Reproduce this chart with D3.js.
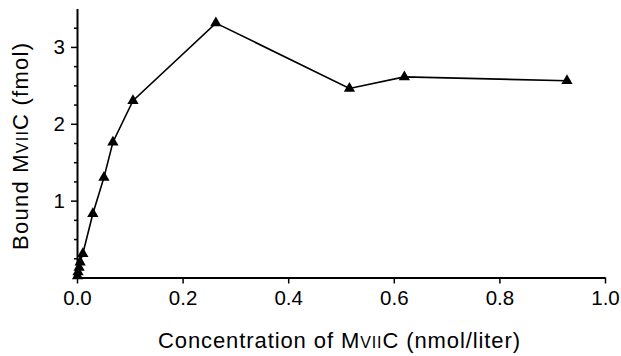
<!DOCTYPE html>
<html>
<head>
<meta charset="utf-8">
<script src="https://cdn.jsdelivr.net/npm/d3@7"></script>
<style>
  body { margin: 0; background: #fff; }
  svg { display: block; font-family: 'Liberation Sans', Arial, sans-serif; }
</style>
</head>
<body>
<svg id="chart" width="621" height="356"></svg>
<script>
const concentration = [0.001, 0.002, 0.004, 0.006, 0.011, 0.03, 0.051, 0.068, 0.106, 0.263, 0.516, 0.62, 0.928]
const bound = [0.02, 0.07, 0.13, 0.2, 0.31, 0.83, 1.3, 1.76, 2.3, 3.31, 2.46, 2.61, 2.56]
const xTicks = [0, 0.2, 0.4, 0.6, 0.8, 1.0]
const yTicks = [1, 2, 3]
const yMinorTicks = [0.25, 0.5, 0.75, 1.25, 1.5, 1.75, 2.25, 2.5, 2.75, 3.25]

const points = concentration.map((c, i) => ({ x: c, y: bound[i] }))

const svg = d3.select('#chart')
const x = d3.scaleLinear().domain([0, 1]).range([77, 605])
const y = d3.scaleLinear().domain([0, 3.5]).range([277.5, 8.5])
const fontFamily = 'Liberation Sans, Arial, sans-serif'

// x axis
svg.append('g')
  .attr('transform', `translate(0, ${y(0)})`)
  .call(d3.axisBottom(x).tickValues(xTicks).tickFormat(d3.format('.1f')).tickSize(6).tickSizeOuter(0).tickPadding(7))
  .call(g => g.select('.domain').attr('stroke-width', 2))
  .call(g => g.selectAll('.tick line').attr('stroke-width', 1.5))
  .call(g => g.selectAll('.tick text').attr('font-size', 20.5).attr('font-family', fontFamily))

// y axis minor
svg.append('g')
  .attr('transform', `translate(${x(0)}, 0)`)
  .call(d3.axisLeft(y).tickValues(yMinorTicks).tickSize(3).tickFormat(''))
  .call(g => g.select('.domain').remove())
  .call(g => g.selectAll('.tick line').attr('stroke-width', 1.5))

// y axis
svg.append('g')
  .attr('transform', `translate(${x(0)}, 0)`)
  .call(d3.axisLeft(y).tickValues(yTicks).tickFormat(d3.format('d')).tickSize(6).tickSizeOuter(0).tickPadding(6))
  .call(g => g.select('.domain').attr('stroke-width', 2))
  .call(g => g.selectAll('.tick line').attr('stroke-width', 1.5))
  .call(g => g.selectAll('.tick text').attr('font-size', 20.5).attr('font-family', fontFamily))

// line
const line = d3.line().x(d => x(d.x)).y(d => y(d.y))
svg.append('path')
  .datum(points)
  .attr('d', line)
  .attr('fill', 'none')
  .attr('stroke', '#000')
  .attr('stroke-width', 1.6)

// markers
svg.append('g').selectAll('path')
  .data(points)
  .enter()
  .append('path')
  .attr('d', d3.symbol().type(d3.symbolTriangle).size(55))
  .attr('transform', d => `translate(${x(d.x)}, ${y(d.y)})`)
  .attr('fill', '#000')

// axis titles
const xTitle = svg.append('text')
  .attr('x', 339)
  .attr('y', 348)
  .attr('text-anchor', 'middle')
  .attr('font-size', 22)
  .attr('textLength', 362)
  .attr('lengthAdjust', 'spacing')
xTitle.append('tspan').text('Concentration of M')
xTitle.append('tspan').attr('font-size', 16).text('VII')
xTitle.append('tspan').text('C (nmol/liter)')

const yTitle = svg.append('text')
  .attr('transform', 'translate(28, 146.5) rotate(-90)')
  .attr('text-anchor', 'middle')
  .attr('font-size', 22)
  .attr('textLength', 207)
  .attr('lengthAdjust', 'spacing')
yTitle.append('tspan').text('Bound M')
yTitle.append('tspan').attr('font-size', 16).text('VII')
yTitle.append('tspan').text('C (fmol)')
</script>
</body>
</html>
